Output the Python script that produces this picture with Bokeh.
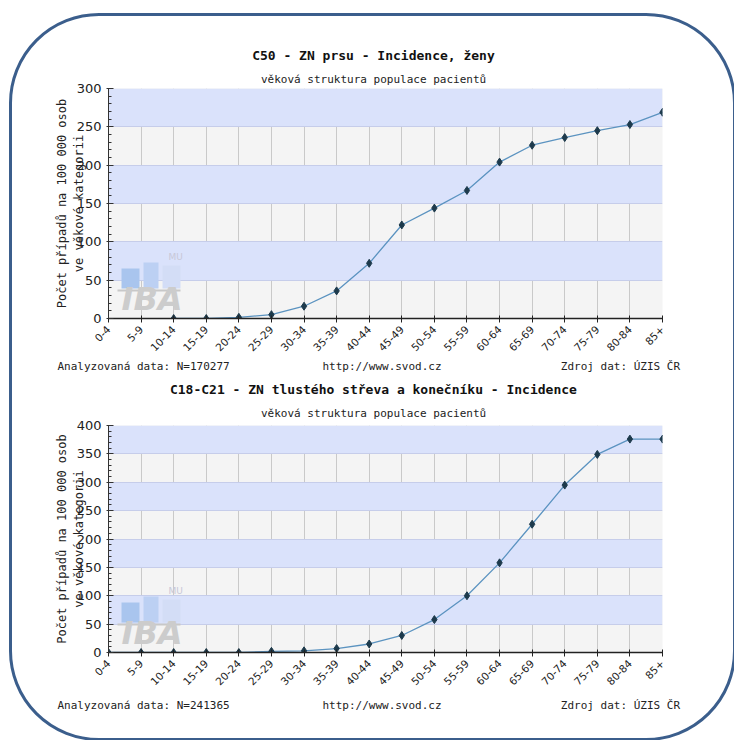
import math
from bokeh.plotting import figure
from bokeh.layouts import column
from bokeh.models import FixedTicker, SingleIntervalTicker, Label, BoxAnnotation, Range1d, ColumnDataSource, Title
from bokeh.embed import file_html
from bokeh.resources import INLINE

nan = float("nan")

age_groups = ["0-4", "5-9", "10-14", "15-19", "20-24", "25-29", "30-34", "35-39", "40-44",
              "45-49", "50-54", "55-59", "60-64", "65-69", "70-74", "75-79", "80-84", "85+"]

breast_title = "C50 - ZN prsu - Incidence, ženy"
breast_values = [nan, nan, 0, 0, 1.5, 5, 16, 36, 72, 122, 144, 167, 204, 226, 236, 245, 253, 269]
breast_ymax = 300
breast_n = "Analyzovaná data: N=170277"

colorectal_title = "C18-C21 - ZN tlustého střeva a konečníku - Incidence"
colorectal_values = [0, 0, 0, 0, 0, 2, 3, 7, 15, 30, 58, 100, 158, 226, 295, 349, 376, 376]
colorectal_ymax = 400
colorectal_n = "Analyzovaná data: N=241365"

subtitle = "věková struktura populace pacientů"
ylabel = "Počet případů na 100 000 osob\nve věkové kategorii"
url_text = "http://www.svod.cz"
source_text = "Zdroj dat: ÚZIS ČR"

BLUE_BAND = "#dae2fb"
GRAY_BAND = "#f4f4f4"
MONO = "DejaVu Sans Mono"
SANS = "DejaVu Sans"
NBSP = "\u00a0"


def make_chart(title, values, ymax, n_text, fig_h, top, bottom, sub_standoff, title_standoff, foot_standoff):
    x = list(range(len(age_groups)))
    src = ColumnDataSource(dict(x=x, y=values, age=age_groups))
    p = figure(width=721, height=fig_h, output_backend="svg", toolbar_location=None, title=None,
               x_range=Range1d(0, len(age_groups) - 1), y_range=Range1d(0, ymax),
               min_border_left=96, min_border_right=71, min_border_top=top, min_border_bottom=bottom)
    p.border_fill_alpha = 0
    p.outline_line_color = None
    p.background_fill_color = GRAY_BAND
    p.ygrid.band_fill_color = BLUE_BAND
    p.ygrid.band_fill_alpha = 1.0
    p.ygrid.grid_line_color = "#c6cdea"
    p.ygrid.ticker = SingleIntervalTicker(interval=50)
    p.xgrid.grid_line_color = "#c9c9c9"
    p.xgrid.ticker = FixedTicker(ticks=x)

    p.xaxis.ticker = FixedTicker(ticks=x)
    p.xaxis.major_label_overrides = {i: a for i, a in zip(x, age_groups)}
    p.xaxis.major_label_orientation = math.pi / 4
    p.xaxis.major_label_text_font = SANS
    p.xaxis.major_label_text_font_size = "10.5px"
    p.xaxis.major_label_text_color = "#222222"
    p.xaxis.axis_line_color = "#222222"
    p.xaxis.axis_line_width = 1.5
    p.xaxis.major_tick_in = 3
    p.xaxis.major_tick_out = 4
    p.xaxis.major_tick_line_color = "#222222"
    p.xaxis.minor_tick_line_color = None

    p.yaxis.ticker = SingleIntervalTicker(interval=50, num_minor_ticks=5)
    p.yaxis.major_label_text_font = SANS
    p.yaxis.major_label_text_font_size = "13px"
    p.yaxis.major_label_text_color = "#222222"
    p.yaxis.axis_line_color = "#333333"
    p.yaxis.major_tick_in = 5
    p.yaxis.major_tick_out = 2
    p.yaxis.minor_tick_in = 3
    p.yaxis.minor_tick_out = 0
    p.yaxis.major_tick_line_color = "#333333"
    p.yaxis.minor_tick_line_color = "#333333"
    p.yaxis.axis_label = ylabel
    p.yaxis.axis_label_text_font = MONO
    p.yaxis.axis_label_text_font_style = "normal"
    p.yaxis.axis_label_text_font_size = "12px"
    p.yaxis.axis_label_text_color = "#222222"
    p.yaxis.axis_label_standoff = -12

    # watermark logo (screen units relative to the frame)
    for l, r, b, t, c in [(13, 31, 30, 50, "#a9c5ee"), (35, 50, 30, 56, "#bcd0f3"), (54, 72, 30, 53, "#d3ddf6")]:
        p.add_layout(BoxAnnotation(left=l, right=r, bottom=b, top=t, left_units="screen", right_units="screen",
                                   bottom_units="screen", top_units="screen", fill_color=c, fill_alpha=1,
                                   line_color=None, level="underlay"))
    p.add_layout(BoxAnnotation(left=9, right=72, bottom=27, top=29, left_units="screen", right_units="screen",
                               bottom_units="screen", top_units="screen", fill_color="#c8c8c8", fill_alpha=1,
                               line_color=None, level="underlay"))
    p.add_layout(Label(x=13, y=1, x_units="screen", y_units="screen", text="IBA", text_font=SANS,
                       text_font_style="bold italic", text_font_size="32px", text_color="#cccccc",
                       level="underlay"))
    p.add_layout(Label(x=60, y=62, x_units="screen", y_units="screen", text="MU", text_font=SANS,
                       text_font_size="9px", text_color="#c8c8d8", text_baseline="middle", level="underlay"))

    p.line("x", "y", source=src, line_color="#5b93c0", line_width=1.3)
    p.scatter("x", "y", source=src, marker="diamond", size=8, fill_color="#1d3a4c", line_color="#1d3a4c")

    # header: subtitle first (closest to the frame), then the main title
    sub_left = 373 - len(subtitle) * 6.62 / 2 - 108
    p.add_layout(Title(text=subtitle, align="left", offset=sub_left, standoff=sub_standoff,
                       text_font=MONO, text_font_size="11px", text_font_style="normal",
                       text_color="#222222"), "above")
    title_left = 373 - len(title) * 7.83 / 2 - 108
    p.add_layout(Title(text=title, align="left", offset=title_left, standoff=title_standoff,
                       text_font=MONO, text_font_size="13px", text_font_style="bold",
                       text_color="#111111"), "above")

    footer = n_text + NBSP * 14 + url_text + NBSP * 18 + source_text
    p.add_layout(Title(text=footer, align="left", offset=-51, standoff=foot_standoff,
                       text_font=MONO, text_font_size="11px", text_font_style="normal",
                       text_color="#222222"), "below")
    return p


p1 = make_chart(breast_title, breast_values, breast_ymax, breast_n, 360, 72, 58, 6, 9, 1)
p2 = make_chart(colorectal_title, colorectal_values, colorectal_ymax, colorectal_n, 362, 49, 86, 12, 4, 10)

layout = column(p1, p2, spacing=0,
                styles={"border": "3px solid #3b5e8c", "border-radius": "90px", "overflow": "hidden",
                        "margin-left": "9px", "margin-top": "13px"})

open("out.html", "w").write(file_html(layout, INLINE))
